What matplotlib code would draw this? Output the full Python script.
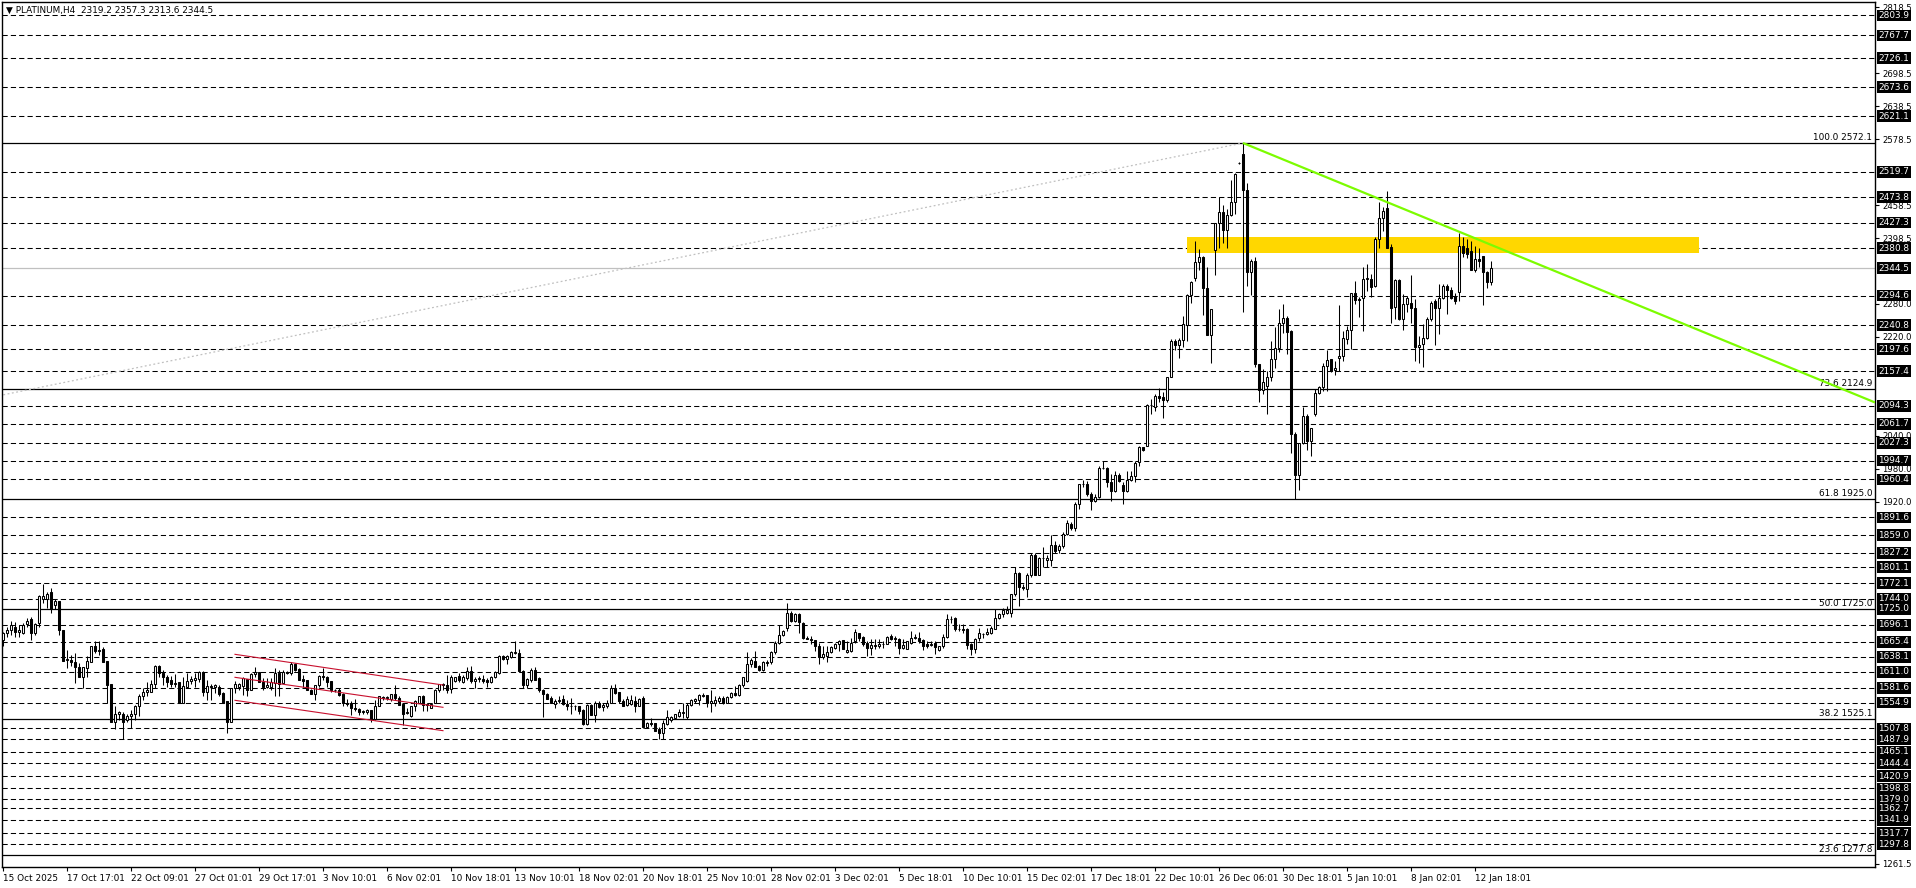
import numpy as np
import matplotlib
matplotlib.use("Agg")
import matplotlib.pyplot as plt
from matplotlib.patches import Rectangle

# PLATINUM H4 candles, 15 Oct 2025 .. 13 Jan 2026
opens = [1669,1682,1687,1692,1684,1682,1698,1706,1681,1700,1743,1743,1756,1733,1740,1687,1632,1633,1628,1620,
         1602,1617,1628,1657,1649,1652,1630,1589,1520,1534,1535,1523,1531,1534,1548,1566,1575,1575,1588,1622,
         1608,1602,1596,1589,1592,1555,1584,1595,1596,1597,1611,1575,1585,1583,1584,1572,1558,1520,1581,1584,
         1585,1597,1578,1607,1610,1593,1584,1584,1590,1608,1591,1610,1608,1625,1616,1597,1596,1578,1571,1586,
         1603,1602,1594,1578,1577,1570,1555,1554,1545,1544,1538,1538,1541,1525,1548,
         1565,1563,1561,1570,1564,1553,1536,1531,1548,1555,1566,1552,1545,1555,1577,1586,1586,1580,1594,1603,
         1593,1600,1613,1594,1597,1597,1596,1593,1601,1608,1639,1634,1637,1645,1645,1613,1586,1596,1614,1600,
         1578,1571,1563,1552,1558,1561,1552,1549,1548,1548,1541,1516,1551,1532,1555,1547,1549,1555,1581,1574,
         1558,1550,1552,1557,1549,1564,1511,1517,1517,1506,1500,1516,1523,1526,1531,1536,1528,1551,1557,1560,
         1569,1568,1555,1555,1558,1563,1555,1565,1572,1569,1586,1595,1625,1631,
         1621,1615,1628,1628,1646,1664,1677,1691,1718,1703,1715,1700,1673,1670,1669,1658,1637,1640,1647,1655,
         1661,1668,1646,1649,1667,1681,1674,1664,1655,1660,1658,1661,1662,1676,1670,1671,1655,1653,1664,1673,
         1673,1668,1662,1659,1664,1651,1657,1675,1707,1709,1689,1689,1688,1661,1652,1673,1680,1679,1682,1689,
         1709,1715,1718,1718,1752,1790,1765,1761,1787,1823,1787,1817,1814,1814,1841,1832,1840,1862,1880,1873,
         1916,1952,1952,1934,1921,1928,1981,1981,1956,1940,1968,1951,1939,1959,1967,
         1992,2019,2022,2095,2093,2113,2110,2105,2147,2213,2205,2214,2241,2295,2326,2356,2365,2308,2223,2378,
         2426,2447,2414,2442,2465,2536,2552,2487,2337,2358,2170,2123,2131,2146,2179,2199,2244,2254,2231,2043,
         1969,2027,2075,2031,2079,2118,2128,2167,2179,2160,2181,2185,2216,2232,2300,2288,2290,2325,2325,2313,
         2398,2436,2454,2383,2274,2323,2253,2279,2282,2272,2202,2207,2217,2252,2284,2273,2290,2313,2305,2294,
         2301,2385,2382,2375,2341,2362,2367,2338,2319.2]
highs = [1684,1692,1704,1702,1696,1700,1709,1710,1700,1751,1771,1756,1763,1743,1740,1687,1651,1642,1645,1627,
         1620,1639,1658,1667,1667,1656,1630,1589,1548,1540,1537,1535,1542,1551,1571,1581,1593,1596,1624,1624,
         1614,1605,1604,1607,1592,1602,1608,1603,1608,1613,1613,1596,1588,1589,1586,1575,1558,1581,1595,1591,
         1602,1597,1608,1619,1610,1600,1599,1599,1617,1614,1614,1612,1628,1627,1617,1605,1596,1580,1587,1605,
         1617,1604,1594,1580,1581,1572,1561,1557,1561,1545,1541,1543,1541,1560,1566,
         1567,1567,1571,1587,1566,1555,1545,1549,1559,1567,1569,1555,1555,1579,1588,1590,1605,1605,1602,1608,
         1605,1619,1622,1602,1603,1605,1599,1603,1613,1642,1642,1642,1648,1667,1652,1614,1599,1617,1619,1602,
         1579,1572,1566,1561,1566,1569,1559,1563,1551,1549,1543,1552,1552,1557,1557,1554,1560,1587,1589,1575,
         1561,1566,1569,1566,1563,1567,1520,1526,1518,1511,1523,1542,1531,1535,1543,1555,1554,1561,1563,1571,
         1572,1569,1578,1567,1566,1566,1566,1575,1585,1588,1602,1647,1636,1648,
         1624,1630,1632,1649,1667,1695,1687,1736,1721,1718,1718,1701,1676,1676,1669,1664,1658,1658,1658,1664,
         1668,1668,1667,1673,1688,1682,1676,1667,1670,1670,1670,1667,1676,1679,1676,1673,1670,1667,1685,1679,
         1683,1670,1667,1667,1667,1658,1679,1715,1712,1710,1697,1697,1691,1664,1673,1691,1682,1691,1694,1725,
         1718,1727,1730,1752,1802,1793,1771,1790,1826,1826,1820,1838,1823,1860,1849,1844,1865,1887,1883,1919,
         1953,1959,1958,1937,1934,1985,1994,1983,1970,1976,1973,1955,1976,1976,1994,
         2021,2019,2098,2107,2116,2127,2119,2147,2216,2216,2218,2258,2297,2322,2394,2379,2367,2347,2270,2426,
         2474,2460,2452,2504,2517,2537,2572.1,2499,2361,2365,2171,2161,2158,2213,2237,2270,2279,2258,2232,2046,
         2027,2092,2079,2054,2125,2131,2173,2195,2179,2176,2278,2230,2240,2299,2321,2293,2346,2353,2334,2401,
         2464,2455,2485,2388,2325,2325,2298,2294,2333,2289,2222,2243,2255,2284,2288,2315,2316,2316,2311,2299,
         2408,2402,2398,2394,2384,2382,2367,2340,2357.3]
lows = [1657,1675,1678,1675,1674,1680,1693,1668,1678,1693,1736,1727,1717,1725,1678,1631,1617,1622,1590,1601,
        1581,1602,1628,1645,1642,1628,1555,1520,1506,1523,1488,1520,1508,1524,1531,1560,1566,1575,1581,1602,
        1587,1584,1584,1584,1555,1555,1581,1589,1584,1593,1566,1560,1559,1573,1566,1555,1500,1520,1573,1578,
        1569,1566,1578,1602,1593,1577,1581,1578,1566,1566,1590,1607,1605,1613,1596,1584,1577,1571,1560,1584,
        1596,1584,1575,1574,1567,1548,1548,1532,1540,1532,1535,1535,1520,1523,1548,
        1560,1559,1557,1560,1551,1514,1535,1529,1540,1554,1540,1540,1545,1554,1575,1578,1573,1573,1593,1593,
        1591,1596,1590,1581,1593,1591,1584,1590,1599,1607,1633,1625,1636,1644,1613,1581,1581,1593,1596,1575,
        1529,1561,1554,1545,1554,1551,1542,1535,1542,1534,1514,1514,1532,1520,1545,1540,1545,1554,1571,1554,
        1548,1548,1551,1537,1548,1508,1508,1512,1504,1488,1488,1514,1520,1525,1529,1526,1525,1548,1555,1551,
        1565,1546,1538,1548,1554,1552,1554,1563,1567,1566,1584,1593,1620,1619,
        1612,1612,1622,1625,1643,1661,1676,1685,1701,1701,1682,1671,1670,1661,1649,1625,1634,1629,1645,1652,
        1649,1652,1645,1647,1664,1667,1658,1640,1641,1652,1655,1655,1661,1668,1658,1643,1653,1652,1662,1670,
        1664,1650,1655,1658,1643,1649,1655,1673,1700,1685,1685,1682,1652,1641,1645,1667,1673,1677,1679,1688,
        1706,1710,1715,1711,1749,1731,1759,1747,1784,1787,1787,1802,1802,1803,1826,1826,1835,1859,1869,1867,
        1907,1946,1931,1905,1919,1927,1979,1946,1922,1937,1955,1915,1937,1958,1955,
        1985,2013,2021,2079,2085,2101,2073,2101,2146,2195,2182,2201,2213,2282,2321,2341,2260,2223,2173,2333,
        2381,2391,2381,2440,2443,2534,2264,2313,2295,2164,2102,2116,2079,2139,2163,2192,2226,2188,2008,1925,
        1941,2025,2014,2004,2076,2116,2122,2122,2155,2150,2158,2176,2207,2197,2279,2255,2231,2303,2292,2311,
        2382,2413,2381,2244,2252,2250,2232,2264,2244,2175,2173,2165,2216,2249,2204,2225,2289,2261,2289,2279,
        2284,2364,2363,2341,2337,2346,2278,2308,2313.6]
closes = [1682,1687,1695,1684,1687,1696,1704,1681,1698,1748,1748,1753,1725,1740,1686,1631,1634,1628,1619,1602,
          1620,1630,1657,1649,1651,1628,1587,1520,1534,1537,1520,1531,1534,1548,1566,1575,1577,1588,1622,1608,
          1602,1593,1589,1591,1555,1585,1595,1598,1599,1610,1575,1585,1583,1586,1571,1555,1520,1581,1589,1589,
          1599,1578,1607,1611,1593,1584,1586,1592,1608,1589,1610,1609,1625,1614,1596,1595,1578,1571,1586,1603,
          1601,1593,1578,1577,1569,1555,1553,1545,1543,1538,1540,1541,1525,1549,1566,
          1563,1565,1570,1564,1551,1535,1537,1548,1557,1566,1551,1550,1552,1578,1588,1588,1578,1602,1602,1596,
          1601,1613,1594,1597,1599,1595,1593,1601,1610,1639,1634,1639,1647,1647,1613,1586,1597,1614,1596,1578,
          1570,1562,1555,1558,1560,1552,1549,1548,1549,1539,1516,1551,1532,1555,1546,1550,1555,1581,1573,1557,
          1549,1561,1560,1549,1561,1511,1518,1516,1504,1500,1517,1528,1529,1534,1537,1538,1551,1560,1562,1569,
          1567,1555,1557,1560,1564,1555,1565,1572,1569,1586,1601,1625,1633,1620,
          1615,1628,1627,1647,1664,1677,1685,1718,1703,1715,1701,1673,1671,1669,1658,1637,1643,1647,1656,1662,
          1667,1653,1651,1664,1684,1673,1661,1655,1660,1658,1662,1661,1674,1671,1673,1655,1660,1666,1673,1675,
          1667,1658,1658,1661,1656,1658,1675,1707,1707,1689,1688,1687,1660,1653,1670,1681,1679,1683,1691,1709,
          1715,1723,1723,1752,1790,1765,1763,1787,1823,1787,1817,1818,1817,1841,1831,1840,1862,1881,1872,1916,
          1952,1953,1934,1921,1929,1981,1982,1955,1940,1968,1958,1939,1959,1967,1991,
          2019,2014,2095,2096,2113,2108,2105,2146,2213,2205,2214,2243,2295,2319,2356,2365,2308,2223,2270,2426,
          2447,2414,2442,2465,2515,2535,2487,2337,2358,2170,2123,2138,2146,2179,2199,2244,2254,2228,2043,1969,
          2027,2075,2031,2054,2118,2128,2167,2178,2158,2163,2184,2218,2232,2299,2287,2287,2325,2326,2311,2398,
          2436,2449,2382,2273,2323,2253,2279,2290,2272,2202,2204,2217,2252,2281,2273,2290,2313,2305,2291,2284,
          2385,2373,2371,2341,2361,2358,2337,2319,2344.5]

time_labels = ["15 Oct 2025", "17 Oct 17:01", "22 Oct 09:01", "27 Oct 01:01", "29 Oct 17:01",
               "3 Nov 10:01", "6 Nov 02:01", "10 Nov 18:01", "13 Nov 10:01", "18 Nov 02:01",
               "20 Nov 18:01", "25 Nov 10:01", "28 Nov 02:01", "3 Dec 02:01", "5 Dec 18:01",
               "10 Dec 10:01", "15 Dec 02:01", "17 Dec 18:01", "22 Dec 10:01", "26 Dec 06:01",
               "30 Dec 18:01", "5 Jan 10:01", "8 Jan 02:01", "12 Jan 18:01"]
bars_per_label = 16

# horizontal levels drawn on the chart
levels = [2803.9, 2767.7, 2726.1, 2673.6, 2621.1, 2519.7, 2473.8, 2427.3, 2380.8, 2294.6,
          2240.8, 2197.6, 2157.4, 2094.3, 2061.7, 2027.3, 1994.7, 1960.4, 1891.6, 1859.0,
          1827.2, 1801.1, 1772.1, 1744.0, 1696.1, 1665.4, 1638.1, 1611.0, 1581.6, 1554.9,
          1507.8, 1487.9, 1465.1, 1444.4, 1420.9, 1398.8, 1379.0, 1362.7, 1341.9, 1317.7, 1297.8]
fib_pct = [100.0, 73.6, 61.8, 50.0, 38.2, 23.6]
fib_price = [2572.1, 2124.9, 1925.0, 1725.0, 1525.1, 1277.8]
# scale labels that stay visible between the boxed level prices
price_ticks = [2818.5, 2698.5, 2638.5, 2578.5, 2458.5, 2398.5, 2280.0,
               2220.0, 2040.0, 1980.0, 1920.0, 1261.5]
last_price = 2344.5

# drawn objects (bar index, price)
fib_line = ([-837, 310], [877.9, 2572.1])
trend_line = ([310, 364], [2572.1, 2410.9])
zone = (296, 424, 2372.1, 2401.2)
channel = [([58, 110], [1642.6, 1586.8]),
           ([58, 110], [1600.8, 1546.3]),
           ([58, 110], [1559.0, 1503.8])]

FS = 6.4
TICK_FS = 6.1
plt.rcParams['font.family'] = ['DejaVu Sans']

fig = plt.figure(figsize=(19.16, 8.88), dpi=100)
ax = fig.add_axes([2 / 1916, 21 / 888, 1873 / 1916, 865 / 888])
ax.set_xlim(-0.25, 468)
ax.set_ylim(1256.0, 2828.4)

o = np.array(opens); h = np.array(highs); l = np.array(lows); c = np.array(closes)
idx = np.arange(len(c))

# levels
for lv in levels:
    ax.axhline(lv, color='black', lw=0.75, ls=(0, (5, 3)), zorder=1)
for pct, fp in zip(fib_pct, fib_price):
    ax.axhline(fp, color='black', lw=0.9, zorder=1)
    ax.text(0.9985, fp + 1.5, f"{pct:.1f} {fp:.1f}", transform=ax.get_yaxis_transform(),
            ha='right', va='bottom', fontsize=FS, color='black', zorder=2)
ax.axhline(last_price, color='#c0c0c0', lw=0.9, zorder=1)

ax.add_patch(Rectangle((zone[0], zone[2]), zone[1] - zone[0], zone[3] - zone[2],
                       facecolor='#ffd700', edgecolor='none', zorder=1.5))

# fibo trend (dotted) and green trendline ray
ax.plot(fib_line[0], fib_line[1], color='#c0c0c0', lw=0.9, ls=(0, (1.5, 2)), zorder=1.6)
slope = (trend_line[1][1] - trend_line[1][0]) / (trend_line[0][1] - trend_line[0][0])
x_end = 468
ax.plot([trend_line[0][0], x_end],
        [trend_line[1][0], trend_line[1][0] + slope * (x_end - trend_line[0][0])],
        color='#7cfc00', lw=1.6, zorder=5, solid_capstyle='butt')
for xs, ys in channel:
    ax.plot(xs, ys, color='#c8102e', lw=0.8, zorder=5)

# candles
up = c >= o
ax.vlines(idx, l, h, color='black', lw=0.75, zorder=3)
body = np.maximum(np.abs(c - o), 0.7)
ax.bar(idx, body, bottom=np.minimum(o, c), width=0.5,
       color=np.where(up, 'white', 'black'), edgecolor='black', linewidth=0.75, zorder=4)

# axes styling
for s in ax.spines.values():
    s.set_color('black'); s.set_linewidth(1)
ax.yaxis.tick_right()
ax.set_yticks(price_ticks)
ax.set_yticklabels([f"{t:.1f}" for t in price_ticks])
ax.tick_params(axis='y', direction='out', length=3, pad=2, labelsize=TICK_FS, width=0.8)
ticks = np.arange(len(time_labels)) * bars_per_label
ax.set_xticks(ticks)
ax.set_xticklabels(time_labels)
ax.tick_params(axis='x', direction='out', length=3, pad=2, labelsize=FS, width=0.8)
for lab in ax.get_xticklabels():
    lab.set_ha('left')

# boxed price labels on the scale
for lv in levels + [1725.0, last_price]:
    ax.annotate(f"{lv:.1f}", xy=(1, lv), xycoords=('axes fraction', 'data'),
                xytext=(2.5, 0), textcoords='offset points', ha='left', va='center',
                fontsize=FS, color='white', annotation_clip=False, zorder=6,
                bbox=dict(boxstyle='square,pad=0.15', fc='black', ec='none'))

ax.text(0.002, 0.995, "\u25bc PLATINUM,H4  2319.2 2357.3 2313.6 2344.5", transform=ax.transAxes,
        ha='left', va='top', fontsize=FS, color='black', zorder=6)

fig.savefig("out.png", dpi=100, facecolor='white')
